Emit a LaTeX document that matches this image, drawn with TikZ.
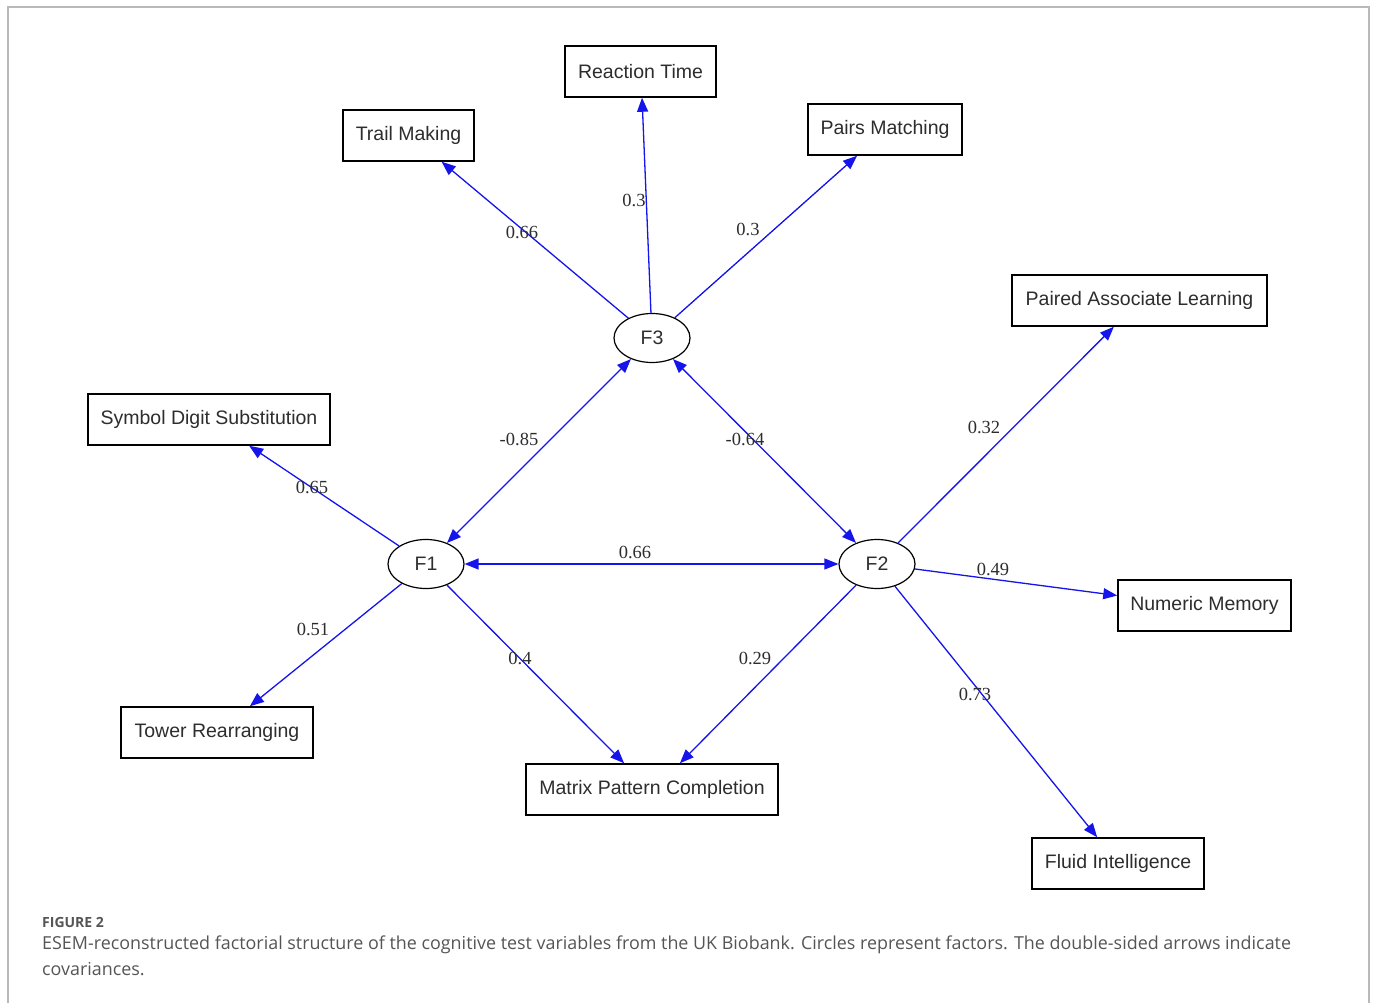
\documentclass[tikz,border=0pt]{standalone}
\usepackage{fontspec}
\setmainfont{Liberation Serif}
\setsansfont{Liberation Sans}
\newfontfamily\capfont{Open Sans}
\usetikzlibrary{arrows.meta,positioning,calc,shapes.geometric}
\definecolor{inkgray}{RGB}{45,45,45}
\definecolor{capgray}{RGB}{85,85,85}
\definecolor{framegray}{RGB}{185,185,185}
\definecolor{pathblue}{RGB}{20,20,235}

\tikzset{
    var/.style={draw=black, line width=1.5pt, fill=white, inner sep=0pt,
        minimum height=51pt, text=inkgray,
        font=\sffamily\fontsize{19.5}{22}\selectfont},
    fac/.style={draw=black, ellipse, line width=1.2pt, inner sep=0pt,
        minimum width=76pt, minimum height=49pt, text=inkgray,
        font=\sffamily\fontsize{19.5}{22}\selectfont},
    est/.style={inner sep=0pt, text=inkgray, font=\rmfamily\fontsize{18.5}{20}\selectfont},
    tip/.tip={Triangle[length=14pt,width=11pt]},
    load/.style={draw=pathblue, line width=1.3pt, -tip},
    cov/.style={draw=pathblue, line width=1.3pt, tip-tip},
}

\begin{document}
\begin{tikzpicture}[x=1pt,y=-1pt]
    \useasboundingbox (0,0) rectangle (1375,1003);
    \draw[framegray, line width=1.3pt]
        (8,1003) -- (8,7) -- (1369,7) -- (1369,1003)
    ;
    % observed variables
    \node[var, minimum width=151pt] (rt)    at (640.5,71.5)  {Reaction Time};
    \node[var, minimum width=131pt] (tm)    at (408.5,135.5) {Trail Making};
    \node[var, minimum width=154pt] (pm)    at (885,129.5)   {Pairs Matching};
    \node[var, minimum width=255pt] (pal)   at (1139.5,300.5){Paired Associate Learning};
    \node[var, minimum width=242pt] (sds)   at (209,419.5)   {Symbol Digit Substitution};
    \node[var, minimum width=173pt] (nm)    at (1204.5,605.5){Numeric Memory};
    \node[var, minimum width=192pt] (tr)    at (217,732.5)   {Tower Rearranging};
    \node[var, minimum width=252pt] (mpc)   at (652,789.5)   {Matrix Pattern Completion};
    \node[var, minimum width=172pt] (fi)    at (1118,863.5)  {Fluid Intelligence};
    % factors
    \node[fac] (f3) at (652,338) {F3};
    \node[fac] (f1) at (426,564) {F1};
    \node[fac] (f2) at (877,564) {F2};
    % arrow ends on the boxes
    \coordinate (tm-in)   at ($(tm.south west)!.75!(tm.south east)$);
    \coordinate (rt-in)   at ($(rt.south west)!.51!(rt.south east)$);
    \coordinate (pm-in)   at ($(pm.south west)!.32!(pm.south east)$);
    \coordinate (pal-in)  at ($(pal.south west)!.40!(pal.south east)$);
    \coordinate (sds-in)  at ($(sds.south west)!.665!(sds.south east)$);
    \coordinate (nm-in)   at ($(nm.north west)!.31!(nm.south west)$);
    \coordinate (tr-in)   at ($(tr.north west)!.67!(tr.north east)$);
    \coordinate (mpc-in1) at ($(mpc.north west)!.39!(mpc.north east)$);
    \coordinate (mpc-in2) at ($(mpc.north west)!.61!(mpc.north east)$);
    \coordinate (fi-in)   at ($(fi.north west)!.38!(fi.north east)$);
    % loadings
    \draw[load] (f3) -- (tm-in);
    \draw[load] (f3) -- (rt-in);
    \draw[load] (f3) -- (pm-in);
    \draw[load] (f2) -- (pal-in);
    \draw[load] (f1) -- (sds-in);
    \draw[load] (f2) -- (nm-in);
    \draw[load] (f1) -- (tr-in);
    \draw[load] (f1) -- (mpc-in1);
    \draw[load] (f2) -- (mpc-in2);
    \draw[load] (f2) -- (fi-in);
    % covariances
    \draw[cov] (f1) -- (f3);
    \draw[cov] (f3) -- (f2);
    \draw[cov] (f1) -- (f2);
    % estimates
    \node[est] (e-tm)   at (522,232) {0.66};
    \node[est] (e-rt)   at (634,200) {0.3};
    \node[est] (e-pm)   at (748,229) {0.3};
    \node[est] (e-pal)  at (984,427) {0.32};
    \node[est] (e-sds)  at (312,487) {0.65};
    \node[est] (e-f13)  at (519,439) {-0.85};
    \node[est] (e-f32)  at (745,439) {-0.64};
    \node[est] (e-f12)  at (635,552) {0.66};
    \node[est] (e-nm)   at (993,569) {0.49};
    \node[est] (e-tr)   at (313,629) {0.51};
    \node[est] (e-mpc1) at (520,658) {0.4};
    \node[est] (e-mpc2) at (755,658) {0.29};
    \node[est] (e-fi)   at (975,694) {0.73};
    % caption
    \node[anchor=west, inner sep=0pt, text=capgray, font=\capfont\bfseries\fontsize{14}{15}\selectfont]
        (fig) at (42,922) {FIGURE 2};
    \node[anchor=west, inner sep=0pt, text=capgray, font=\capfont\fontsize{17.9}{20}\selectfont]
        (cap1) at (42,945) {ESEM-reconstructed factorial structure of the cognitive test variables from the UK Biobank. Circles represent factors. The double-sided arrows indicate};
    \node[anchor=west, inner sep=0pt, text=capgray, font=\capfont\fontsize{17.9}{20}\selectfont]
        (cap2) at (42,969) {covariances.};
\end{tikzpicture}
\end{document}
